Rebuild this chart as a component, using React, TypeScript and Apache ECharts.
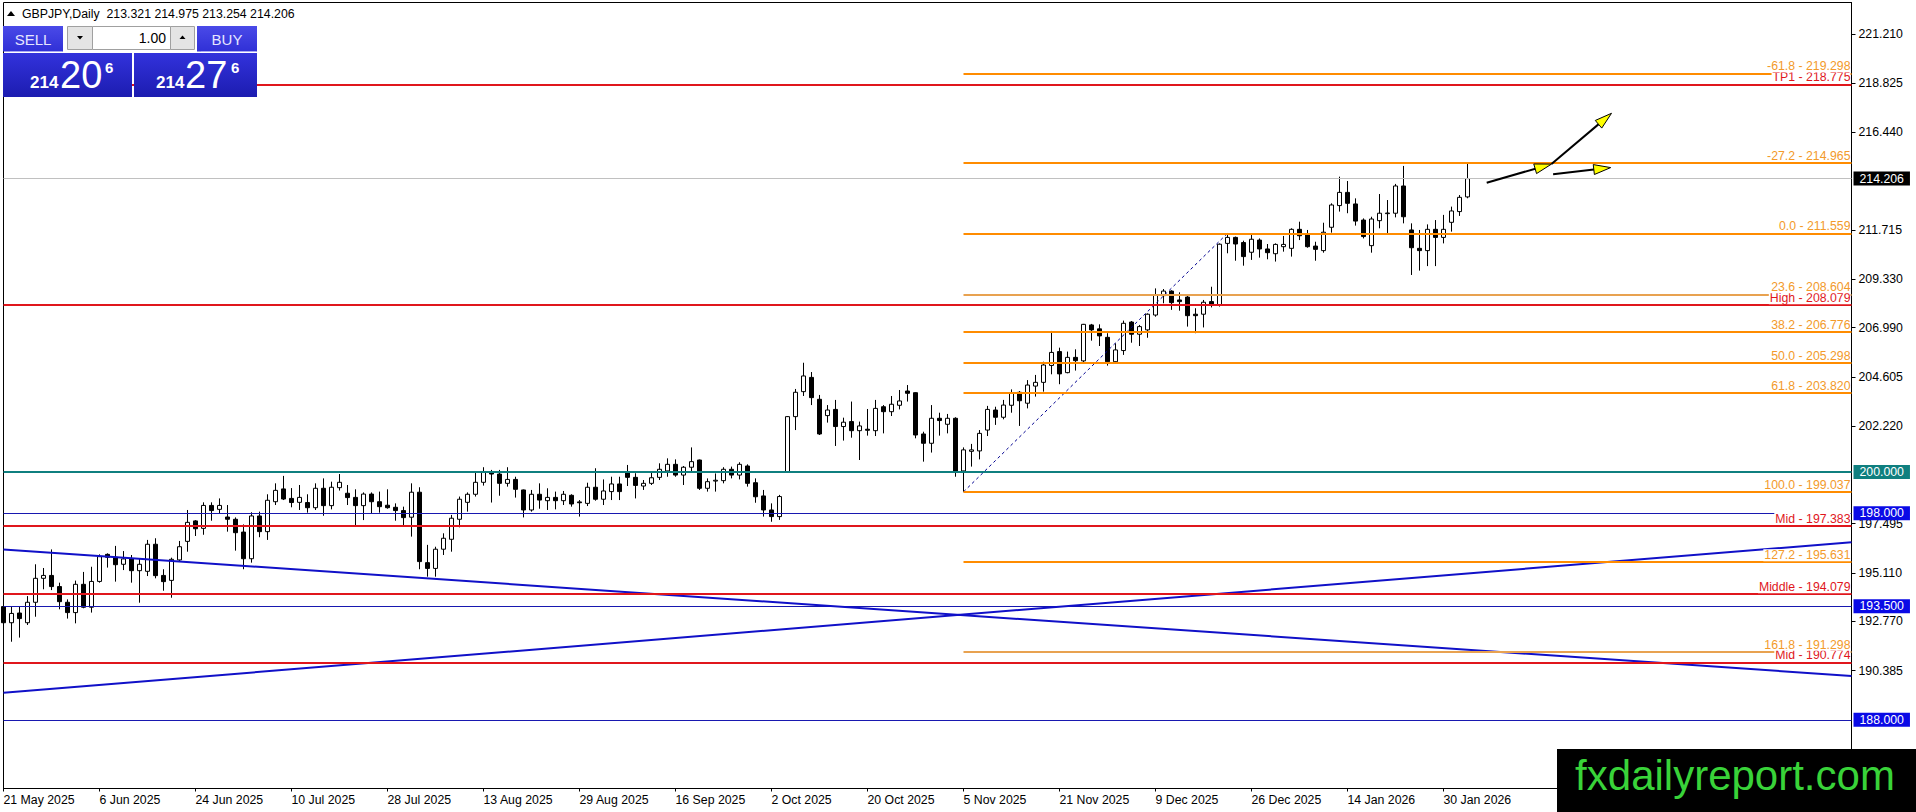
import React, { useEffect, useRef } from "react";
import * as echarts from "echarts";

const FONT = '"Liberation Sans", Arial, Helvetica, sans-serif';
const NARROW = '"Liberation Sans Narrow", "Liberation Sans", Arial, sans-serif';

const symbolTitle = "GBPJPY,Daily";
const headerOHLC = [213.321, 214.975, 213.254, 214.206];

// date labels shown every 12 bars
const tickLabels = [
  "21 May 2025", "6 Jun 2025", "24 Jun 2025", "10 Jul 2025", "28 Jul 2025", "13 Aug 2025",
  "29 Aug 2025", "16 Sep 2025", "2 Oct 2025", "20 Oct 2025", "5 Nov 2025", "21 Nov 2025",
  "9 Dec 2025", "26 Dec 2025", "14 Jan 2026", "30 Jan 2026",
];
const tickEvery = 12;
const totalSlots = 232; // bars + empty space to the right

// daily bars: [open, high, low, close]
const bars: [number, number, number, number][] = [
  [193.48, 193.56, 192.51, 192.70], [192.70, 193.48, 191.78, 193.15], [193.17, 193.48, 191.98, 192.90],
  [192.70, 193.99, 192.59, 193.69], [193.69, 195.53, 192.99, 194.85], [194.85, 195.35, 194.32, 194.99],
  [194.99, 196.25, 194.28, 194.45], [194.45, 194.64, 193.35, 193.72], [193.69, 193.83, 192.90, 193.19],
  [193.19, 194.74, 192.67, 194.56], [194.56, 195.16, 193.40, 193.45], [193.45, 195.41, 193.19, 194.70],
  [194.70, 196.01, 194.64, 195.90], [196.01, 196.06, 195.37, 195.87], [195.87, 196.42, 194.69, 195.51],
  [195.53, 196.17, 195.25, 195.79], [195.79, 195.98, 194.64, 195.22], [195.22, 195.82, 193.67, 195.53],
  [195.19, 196.71, 194.96, 196.50], [196.50, 196.79, 194.85, 194.98], [194.99, 195.29, 194.25, 194.69],
  [194.75, 195.85, 193.91, 195.77], [195.74, 196.66, 195.66, 196.38], [196.64, 198.16, 196.14, 197.56],
  [197.63, 197.67, 196.90, 197.25], [197.27, 198.53, 196.96, 198.38], [198.38, 198.53, 197.64, 198.13],
  [198.19, 198.72, 198.00, 198.38], [197.82, 198.40, 197.11, 197.71], [197.71, 197.80, 196.19, 197.06],
  [197.09, 197.46, 195.29, 195.80], [195.80, 198.05, 195.61, 197.87], [197.87, 198.08, 196.84, 197.11],
  [197.11, 198.92, 196.71, 198.63], [198.56, 199.45, 198.40, 199.11], [199.18, 199.81, 198.64, 198.69],
  [198.72, 199.22, 198.29, 198.52], [198.53, 199.37, 198.16, 198.77], [198.52, 198.92, 198.03, 198.27],
  [198.27, 199.45, 198.16, 199.21], [199.21, 199.69, 197.88, 198.37], [198.37, 199.53, 198.19, 199.26],
  [199.24, 199.90, 199.10, 199.50], [198.97, 199.37, 198.40, 198.76], [198.77, 199.16, 197.38, 198.37],
  [198.37, 199.01, 197.67, 198.93], [198.93, 199.01, 198.00, 198.56], [198.56, 199.05, 198.03, 198.32],
  [198.39, 199.16, 198.22, 198.27], [198.29, 198.48, 197.64, 198.13], [198.13, 198.32, 197.38, 197.79],
  [197.81, 199.45, 196.87, 199.02], [199.02, 199.26, 195.29, 195.66], [195.61, 196.47, 194.93, 195.33],
  [195.33, 196.38, 194.93, 196.26], [196.26, 197.03, 195.98, 196.79], [196.74, 197.92, 196.14, 197.76],
  [197.71, 198.81, 197.32, 198.68], [198.53, 199.01, 198.08, 198.92], [198.92, 200.02, 198.81, 199.50],
  [199.50, 200.23, 199.34, 199.98], [200.02, 200.10, 198.52, 199.90], [199.90, 200.10, 198.85, 199.45],
  [199.45, 200.23, 199.29, 199.64], [199.64, 199.77, 198.76, 199.16], [199.13, 199.15, 197.80, 198.16],
  [198.16, 199.13, 198.08, 198.92], [198.92, 199.45, 198.22, 198.64], [198.61, 199.21, 198.16, 198.77],
  [198.77, 199.05, 198.19, 198.61], [198.61, 199.08, 198.40, 198.92], [198.87, 198.92, 198.32, 198.45],
  [198.55, 198.64, 197.84, 198.51], [198.48, 199.48, 198.35, 199.26], [199.26, 200.18, 198.61, 198.68],
  [198.68, 199.64, 198.40, 199.08], [199.05, 199.77, 198.64, 199.42], [199.42, 199.77, 198.64, 199.05],
  [200.00, 200.34, 199.32, 199.74], [199.74, 199.94, 198.72, 199.35], [199.32, 199.61, 199.13, 199.45],
  [199.45, 200.02, 199.37, 199.72], [199.74, 200.42, 199.61, 200.13], [200.05, 200.66, 199.77, 200.37],
  [200.37, 200.61, 199.77, 199.85], [199.85, 200.29, 199.37, 200.23], [200.23, 201.19, 199.97, 200.50],
  [200.58, 200.60, 199.13, 199.21], [199.21, 199.69, 199.05, 199.53], [199.56, 199.93, 199.05, 199.60],
  [199.58, 200.23, 199.45, 200.13], [200.13, 200.26, 199.69, 199.85], [199.85, 200.47, 199.64, 200.37],
  [200.29, 200.37, 199.29, 199.45], [199.48, 199.69, 198.51, 198.80], [198.84, 199.13, 197.84, 198.16],
  [198.16, 198.48, 197.59, 197.84], [197.84, 198.89, 197.68, 198.81], [199.98, 202.71, 199.96, 202.68],
  [202.68, 204.02, 202.03, 203.86], [203.89, 205.29, 203.68, 204.65], [204.58, 204.84, 203.24, 203.60],
  [203.52, 203.73, 201.79, 201.84], [202.73, 203.24, 202.39, 203.00], [203.03, 203.49, 201.26, 202.20],
  [202.20, 202.63, 201.52, 202.41], [202.44, 203.41, 201.66, 202.00], [202.00, 202.44, 200.58, 202.23],
  [202.07, 203.05, 201.76, 202.02], [202.00, 203.49, 201.74, 203.08], [203.16, 203.24, 201.87, 202.92],
  [202.92, 203.68, 202.71, 203.28], [203.23, 203.97, 203.03, 203.44], [203.92, 204.21, 203.41, 203.81],
  [203.84, 203.86, 201.63, 201.79], [201.84, 201.95, 200.50, 201.39], [201.39, 203.24, 200.94, 202.60],
  [202.60, 202.87, 201.76, 202.49], [202.31, 202.81, 201.87, 202.60], [202.60, 202.65, 199.77, 200.02],
  [200.05, 201.19, 199.04, 201.07], [201.00, 201.36, 200.26, 201.07], [201.02, 202.03, 200.61, 201.87],
  [202.03, 203.20, 201.74, 203.03], [203.00, 203.16, 202.28, 202.65], [202.65, 203.49, 202.55, 203.24],
  [203.23, 204.00, 202.87, 203.81], [203.86, 203.92, 202.23, 203.45], [203.33, 204.45, 203.08, 204.21],
  [204.16, 204.70, 203.65, 204.34], [204.34, 205.34, 203.89, 205.18], [205.16, 206.83, 204.73, 205.79],
  [205.83, 206.02, 204.25, 204.75], [204.81, 205.83, 204.78, 205.55], [205.55, 205.94, 204.91, 205.39],
  [205.38, 207.17, 205.26, 207.15], [207.12, 207.17, 206.36, 206.88], [206.93, 207.15, 206.10, 206.59],
  [206.52, 206.72, 205.15, 205.34], [205.34, 206.23, 205.23, 205.91], [205.88, 207.33, 205.67, 207.20],
  [207.26, 207.31, 206.26, 206.67], [206.67, 207.12, 206.10, 207.04], [206.88, 207.68, 206.50, 207.64],
  [207.60, 208.89, 207.52, 208.55], [208.54, 208.86, 208.17, 208.76], [208.76, 208.80, 207.85, 208.20],
  [208.33, 208.70, 207.81, 208.25], [208.47, 208.52, 207.04, 207.57], [207.64, 207.93, 206.72, 207.57],
  [207.64, 208.33, 207.00, 208.22], [208.25, 208.97, 207.97, 208.12], [208.09, 211.07, 208.01, 211.03],
  [211.07, 211.56, 210.59, 211.36], [211.36, 211.40, 210.23, 211.04], [211.11, 211.20, 209.99, 210.43],
  [210.64, 211.48, 210.27, 211.27], [211.23, 211.31, 210.38, 210.80], [210.80, 211.04, 210.30, 210.62],
  [210.57, 211.07, 210.19, 211.02], [210.91, 211.43, 210.67, 211.02], [210.83, 211.80, 210.43, 211.75],
  [211.75, 212.12, 211.23, 211.44], [211.48, 211.72, 210.86, 210.91], [210.94, 211.15, 210.23, 210.78],
  [210.72, 212.07, 210.62, 211.61], [211.85, 213.01, 211.59, 212.93], [212.90, 214.30, 212.61, 213.54],
  [213.54, 214.09, 212.53, 213.01], [212.98, 213.25, 211.93, 212.15], [212.20, 212.28, 211.31, 211.40],
  [210.96, 212.36, 210.62, 212.25], [212.17, 213.46, 211.80, 212.53], [212.51, 213.17, 211.56, 212.54],
  [212.53, 213.95, 212.33, 213.85], [213.85, 214.82, 212.04, 212.36], [211.72, 212.04, 209.54, 210.86],
  [210.83, 211.72, 209.75, 210.72], [210.72, 211.99, 209.97, 211.75], [211.75, 212.20, 209.97, 211.36],
  [211.36, 212.45, 211.07, 211.75], [212.09, 212.85, 211.64, 212.64], [212.61, 213.41, 212.40, 213.30],
  [213.321, 214.975, 213.254, 214.206],
];

// price axis
const yTicks = [221.21, 218.825, 216.44, 211.715, 209.33, 206.99, 204.605, 202.22, 197.495, 195.11, 192.77, 190.385];
const yMin = 184.672;
const yMax = 222.735;

// fibonacci retracement
const fibRatios = [-61.8, -27.2, 0.0, 23.6, 38.2, 50.0, 61.8, 100.0, 127.2, 161.8];
const fibPrices = [219.298, 214.965, 211.559, 208.604, 206.776, 205.298, 203.82, 199.037, 195.631, 191.298];
const fibLight = [false, false, false, true, false, false, false, false, false, true];
const fibAnchorLow: [number, number] = [120, 199.037];
const fibAnchorHigh: [number, number] = [153, 211.559];

// red levels
const redNames = ["TP1", "High", "Mid", "Middle", "Mid"];
const redPrices = [218.775, 208.079, 197.383, 194.079, 190.774];

// round levels with axis price boxes
const roundLevels = [200.0, 198.0, 193.5, 188.0];
const roundLineColors = ["#0f7f7f", "#1818b0", "#1818b0", "#1818b0"];
const roundLineWidths = [2, 1, 1, 1];
const roundBoxColors = ["#0f7f7f", "#0a0ae6", "#0a0ae6", "#0a0ae6"];
const currentPrice = 214.206;

// trend lines [barIndex, price]
const trendA: [number, number][] = [[0, 196.25], [231, 190.12]];
const trendB: [number, number][] = [[0, 189.31], [231, 196.6]];

// drawn arrows [barIndex, price]
const arrows: { from: [number, number]; to: [number, number] }[] = [
  { from: [185.4, 214.01], to: [193.5, 214.91] },
  { from: [193.5, 214.91], to: [201.0, 217.37] },
  { from: [193.7, 214.42], to: [200.9, 214.74] },
];

const RED = "#e0161c";
const ORANGE = "#ff8c00";
const ORANGE_LIGHT = "#e8a250";
const ORANGE_TEXT = "#f39a2a";

function buildOption() {
  const categories = Array.from({ length: totalSlots }, (_, i) => String(i));
  const candleData = bars.map(([o, h, l, c]) => [o, c, l, h]);
  const showTick = (index: number) => index % tickEvery === 0 && index / tickEvery < tickLabels.length;

  const ml: any[] = [];
  ml.push({
    yAxis: currentPrice,
    lineStyle: { color: "#c0c0c0", width: 1, type: "solid" },
    label: {
      show: true, position: "end", distance: 2, formatter: currentPrice.toFixed(3),
      color: "#fff", backgroundColor: "#000", padding: [1, 6, 0, 6], fontSize: 12.3, lineHeight: 13, fontFamily: FONT,
    },
  });
  roundLevels.forEach((v, k) => {
    ml.push({
      yAxis: v,
      lineStyle: { color: roundLineColors[k], width: roundLineWidths[k], type: "solid" },
      label: {
        show: true, position: "end", distance: 2, formatter: v.toFixed(3),
        color: "#fff", backgroundColor: roundBoxColors[k], padding: [1, 6, 0, 6], fontSize: 12.3, lineHeight: 13, fontFamily: FONT,
      },
    });
  });
  [trendA, trendB].forEach((t) => {
    ml.push([
      { coord: t[0], lineStyle: { color: "#1010c8", width: 2, type: "solid" }, label: { show: false } },
      { coord: t[1] },
    ]);
  });
  ml.push([
    { coord: fibAnchorLow, lineStyle: { color: "#000090", width: 1, type: [3, 3] }, label: { show: false } },
    { coord: fibAnchorHigh },
  ]);
  redPrices.forEach((v, k) => {
    ml.push({
      yAxis: v,
      lineStyle: { color: RED, width: 2, type: "solid" },
      label: {
        show: true, position: "insideEndTop", distance: [1, 1], formatter: `${redNames[k]} - ${v.toFixed(3)}`,
        color: RED, backgroundColor: "#fff", padding: [0, 0, 0, 1], fontSize: 12.3, lineHeight: 12, fontFamily: FONT,
      },
    });
  });
  fibPrices.forEach((v, k) => {
    ml.push([
      {
        coord: [fibAnchorLow[0], v],
        lineStyle: { color: fibLight[k] ? ORANGE_LIGHT : ORANGE, width: 2, type: "solid" },
        label: {
          show: true, position: "insideEndTop", distance: [1, 1],
          formatter: `${fibRatios[k].toFixed(1)} - ${v.toFixed(3)}`,
          color: ORANGE_TEXT, backgroundColor: "#fff", padding: [0, 0, 0, 1], fontSize: 12.3, lineHeight: 12, fontFamily: FONT,
        },
      },
      { coord: [totalSlots - 1, v] },
    ]);
  });

  return {
    animation: false,
    backgroundColor: "#ffffff",
    textStyle: { fontFamily: FONT },
    grid: {
      left: 3.5, right: 64.5, top: 2.5, bottom: 23.5,
      show: true, borderColor: "#000", borderWidth: 1, backgroundColor: "transparent",
    },
    xAxis: {
      type: "category",
      data: categories,
      boundaryGap: false,
      axisLine: { show: true, lineStyle: { color: "#000", width: 1 } },
      axisTick: { show: true, length: 3, interval: (i: number) => showTick(i), lineStyle: { color: "#000" } },
      axisLabel: {
        show: true,
        interval: (i: number) => showTick(i),
        formatter: (_v: string, i: number) => tickLabels[i / tickEvery] || "",
        align: "left",
        margin: 5,
        color: "#000",
        fontSize: 12.3,
        fontFamily: FONT,
      },
      splitLine: { show: false },
    },
    yAxis: {
      type: "value",
      position: "right",
      min: yMin,
      max: yMax,
      axisLine: { show: true, lineStyle: { color: "#000", width: 1 } },
      axisTick: { show: true, length: 4, inside: false, customValues: yTicks, lineStyle: { color: "#000" } },
      axisLabel: {
        show: true, customValues: yTicks, margin: 7, color: "#000", fontSize: 12.3, fontFamily: FONT,
        formatter: (v: number) => v.toFixed(3),
      },
      splitLine: { show: false },
    },
    series: [
      {
        type: "candlestick",
        data: candleData,
        barWidth: 5,
        clip: true,
        silent: true,
        itemStyle: { color: "#ffffff", color0: "#000000", borderColor: "#000000", borderColor0: "#000000", borderWidth: 1 },
        markLine: {
          silent: true,
          symbol: ["none", "none"],
          animation: false,
          precision: 3,
          data: ml,
        },
      },
    ],
  };
}

function buildGraphics(chart: any) {
  const p0 = chart.convertToPixel({ gridIndex: 0 }, [0, yMin]);
  const p1 = chart.convertToPixel({ gridIndex: 0 }, [totalSlots - 1, yMin]);
  const toPx = (pt: [number, number]) => {
    const x = p0[0] + (pt[0] / (totalSlots - 1)) * (p1[0] - p0[0]);
    const y = chart.convertToPixel({ yAxisIndex: 0 }, pt[1]);
    return [x, y];
  };
  const els: any[] = [];
  arrows.forEach((a) => {
    const s = toPx(a.from);
    const t = toPx(a.to);
    const dx = t[0] - s[0];
    const dy = t[1] - s[1];
    const len = Math.sqrt(dx * dx + dy * dy) || 1;
    const ux = dx / len;
    const uy = dy / len;
    const nx = -uy;
    const ny = ux;
    const bx = t[0] - ux * 17;
    const by = t[1] - uy * 17;
    els.push({
      type: "line", z: 100, silent: true,
      shape: { x1: s[0], y1: s[1], x2: t[0] - ux * 4, y2: t[1] - uy * 4 },
      style: { stroke: "#000", lineWidth: 2 },
    });
    els.push({
      type: "polygon", z: 101, silent: true,
      shape: { points: [[t[0], t[1]], [bx + nx * 5, by + ny * 5], [bx - nx * 5, by - ny * 5]] },
      style: { fill: "#ffff00", stroke: "#000", lineWidth: 1 },
    });
  });

  const txt = (x: number, y: number, text: string, font: string, fill: string, align = "left") => ({
    type: "text", z: 120, silent: true, x, y,
    style: { text, font, fill, align, verticalAlign: "middle", textAlign: align, textVerticalAlign: "middle" },
  });
  const btnGrad = new echarts.graphic.LinearGradient(0, 0, 0, 1, [
    { offset: 0, color: "#4a4ae8" },
    { offset: 1, color: "#3030d6" },
  ]);
  const boxGrad = new echarts.graphic.LinearGradient(0, 0, 0, 1, [
    { offset: 0, color: "#3232dc" },
    { offset: 1, color: "#1c1cb0" },
  ]);

  // header
  els.push({ type: "polygon", z: 120, silent: true, shape: { points: [[7, 16], [15, 16], [11, 11]] }, style: { fill: "#000" } });
  els.push(txt(22, 13.5, `${symbolTitle}  ${headerOHLC.map((v) => v.toFixed(3)).join(" ")}`, `12.3px ${FONT}`, "#000"));

  // one-click trading panel
  els.push({ type: "rect", z: 110, silent: true, shape: { x: 3, y: 26, width: 60, height: 25.5 }, style: { fill: btnGrad } });
  els.push({ type: "rect", z: 110, silent: true, shape: { x: 197, y: 26, width: 60, height: 25.5 }, style: { fill: btnGrad } });
  els.push({ type: "line", z: 111, silent: true, shape: { x1: 10, y1: 51.5, x2: 62, y2: 51.5 }, style: { stroke: "#a8a8f4", lineWidth: 1 } });
  els.push({ type: "line", z: 111, silent: true, shape: { x1: 201, y1: 51.5, x2: 256, y2: 51.5 }, style: { stroke: "#a8a8f4", lineWidth: 1 } });
  els.push({ type: "rect", z: 110, silent: true, shape: { x: 67.5, y: 26.5, width: 25, height: 23 }, style: { fill: "#e4e4e4", stroke: "#a0a0a0", lineWidth: 1 } });
  els.push({ type: "rect", z: 110, silent: true, shape: { x: 92.5, y: 26.5, width: 78, height: 23 }, style: { fill: "#ffffff", stroke: "#a0a0a0", lineWidth: 1 } });
  els.push({ type: "rect", z: 110, silent: true, shape: { x: 170.5, y: 26.5, width: 24, height: 23 }, style: { fill: "#e4e4e4", stroke: "#a0a0a0", lineWidth: 1 } });
  els.push({ type: "polygon", z: 112, silent: true, shape: { points: [[77, 36], [83, 36], [80, 39.5]] }, style: { fill: "#000" } });
  els.push({ type: "polygon", z: 112, silent: true, shape: { points: [[179.5, 39], [185.5, 39], [182.5, 35.5]] }, style: { fill: "#000" } });
  els.push(txt(33, 39, "SELL", `15px ${NARROW}`, "#e6e6ff", "center"));
  els.push(txt(227, 39, "BUY", `15px ${NARROW}`, "#e6e6ff", "center"));
  els.push(txt(166, 38, "1.00", `14px ${FONT}`, "#000", "right"));
  els.push({ type: "rect", z: 110, silent: true, shape: { x: 3, y: 53, width: 129, height: 44 }, style: { fill: boxGrad } });
  els.push({ type: "rect", z: 110, silent: true, shape: { x: 134, y: 53, width: 123, height: 44 }, style: { fill: boxGrad } });
  els.push(txt(30, 82, "214", `bold 17px ${FONT}`, "#fff"));
  els.push(txt(60, 75, "20", `38px ${FONT}`, "#fff"));
  els.push(txt(105, 67, "6", `bold 15px ${FONT}`, "#fff"));
  els.push(txt(156, 82, "214", `bold 17px ${FONT}`, "#fff"));
  els.push(txt(185, 75, "27", `38px ${FONT}`, "#fff"));
  els.push(txt(231, 67, "6", `bold 15px ${FONT}`, "#fff"));

  // watermark
  els.push({ type: "rect", z: 130, silent: true, shape: { x: 1557, y: 749, width: 359, height: 63 }, style: { fill: "#000" } });
  els.push({ ...txt(1735, 775, "fxdailyreport.com", `42px ${FONT}`, "#39d339", "center"), z: 131 });
  return els;
}

export default function App() {
  const ref = useRef<HTMLDivElement>(null);
  useEffect(() => {
    if (!ref.current) return;
    const chart = echarts.init(ref.current, undefined, { renderer: "svg" });
    chart.setOption(buildOption() as any);
    chart.setOption({ graphic: buildGraphics(chart) } as any);
    return () => chart.dispose();
  }, []);
  return (
    <div
      ref={ref}
      style={{ position: "fixed", left: 0, top: 0, width: 1916, height: 812, background: "#fff" }}
    />
  );
}
